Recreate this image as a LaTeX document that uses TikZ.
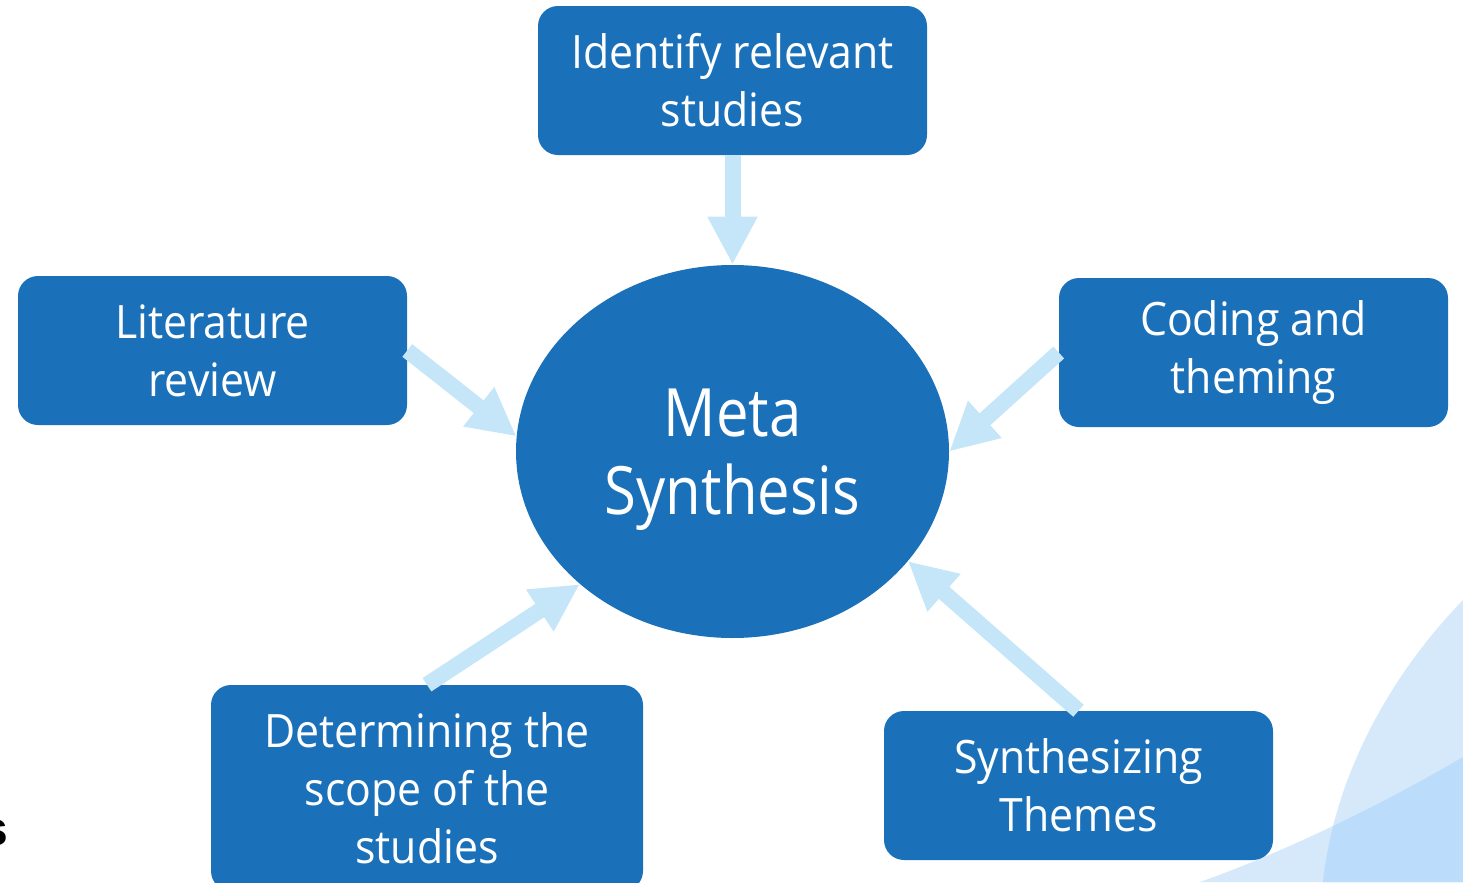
\documentclass[tikz,border=0pt]{standalone}
\usepackage{fontspec}
\setmainfont{Open Sans}
\newfontfamily\boxfont{Open Sans}[FakeStretch=0.93]
\newfontfamily\metafont{Open Sans}[FakeStretch=0.87]
\newfontfamily\arialfont{Liberation Sans}
\usetikzlibrary{shapes.geometric,arrows.meta}
\definecolor{boxblue}{RGB}{27,113,185}
\definecolor{arrowblue}{RGB}{197,229,248}
\definecolor{decolight}{RGB}{214,233,251}
\definecolor{decodark}{RGB}{187,220,250}
\begin{document}
\begin{tikzpicture}[x=0.75pt,y=-0.75pt,
  stepbox/.style={draw=none, fill=boxblue, rounded corners=15pt,
    minimum width=291.75pt, minimum height=111.75pt, text=white,
    align=center, font=\boxfont\fontsize{34.5}{43.5}\selectfont, inner sep=0pt},
  flow/.style={draw=arrowblue, line width=12pt,
    -{Triangle[width=35pt,length=36pt]}}]
\useasboundingbox (0,0) rectangle (1463,882);
% background decoration
\fill[decolight] (1463,600) .. controls (1395,670) and (1335,770) .. (1323,882) -- (1463,882) -- cycle;
\fill[decolight] (1200,882) .. controls (1290,850) and (1390,800) .. (1463,757) -- (1463,882) -- cycle;
\begin{scope}
  \clip (1463,600) .. controls (1395,670) and (1335,770) .. (1323,882) -- (1463,882) -- cycle;
  \fill[decodark] (1200,882) .. controls (1290,850) and (1390,800) .. (1463,757) -- (1463,882) -- cycle;
\end{scope}
% clipped letter at left
\node[font=\arialfont\bfseries\fontsize{36}{40}\selectfont, anchor=base east, inner sep=0pt] (cut) at (8.5,845) {s};
% nodes
\node[ellipse, fill=boxblue, minimum width=324.75pt, minimum height=279.75pt, inner sep=0pt] (meta) at (732.5,451.5) {};
\node[text=white, align=center, font=\metafont\fontsize{50}{58.5}\selectfont, inner sep=0pt] (metatext) at (732.5,460) {Meta\\Synthesis};
\node[stepbox] (identify) at (732.5,80.5) {Identify relevant\\studies};
\node[stepbox] (lit) at (212.5,350.5) {Literature\\review};
\node[stepbox] (coding) at (1253.5,352.5) {Coding and\\theming};
\node[stepbox, minimum width=324pt, minimum height=154.5pt] (scope) at (427,788) {Determining the\\scope of the\\studies};
\node[stepbox] (synth) at (1078.5,785.5) {Synthesizing\\Themes};
% arrows
\draw[flow] (identify.south) -- (meta.north);
\draw[flow] (lit.east) -- (meta.176);
\draw[flow] (coding.west) -- (meta.east);
\draw[flow] (scope.north) -- (meta.221);
\draw[flow] (synth.north) -- (meta.328);
\end{tikzpicture}
\end{document}
